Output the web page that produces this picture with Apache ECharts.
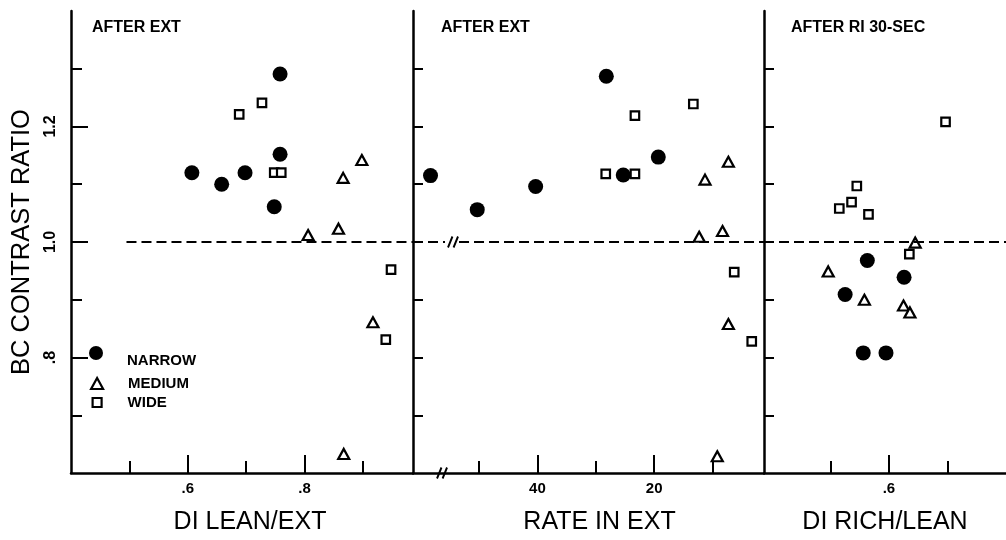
<!DOCTYPE html>
<html>
<head>
<meta charset="utf-8">
<script src="https://cdn.jsdelivr.net/npm/echarts@6/dist/echarts.min.js"></script>
<style>html,body{margin:0;padding:0;background:#fff}#c{width:1006px;height:540px}</style>
</head>
<body>
<div id="c"></div>
<script>
// ---- data ----
const seriesNames = ['NARROW', 'MEDIUM', 'WIDE'];
const panelTitles = ['AFTER EXT', 'AFTER EXT', 'AFTER RI 30-SEC'];
const xTitles = ['DI LEAN/EXT', 'RATE IN EXT', 'DI RICH/LEAN'];
const yTitle = 'BC CONTRAST RATIO';

const yMajorTicks = [0.8, 1.0, 1.2];
const yMinorTicks = [0.7, 0.9, 1.1, 1.3];
const yAllTicks = [0.7, 0.8, 0.9, 1.0, 1.1, 1.2, 1.3];
const p1MajorTicks = [0.6, 0.8];
const p1MinorTicks = [0.5, 0.7, 0.9];
const p2MajorTicks = [20, 40];
const p2MinorTicks = [10, 30, 50];
const p3MajorTicks = [0.6];
const p3MinorTicks = [0.5, 0.7];

// panel 1: DI LEAN/EXT
const p1Narrow = [[0.607, 1.120], [0.658, 1.100], [0.698, 1.120], [0.748, 1.061], [0.758, 1.152], [0.758, 1.291]];
const p1Medium = [[0.806, 1.012], [0.858, 1.023], [0.866, 1.111], [0.898, 1.142], [0.917, 0.861], [0.867, 0.633]];
const p1Wide   = [[0.688, 1.221], [0.727, 1.241], [0.748, 1.120], [0.760, 1.120], [0.948, 0.952], [0.939, 0.831]];
// panel 2: RATE IN EXT
const p2Narrow = [[58.3, 1.115], [50.3, 1.056], [40.3, 1.096], [28.2, 1.287], [25.3, 1.116], [19.3, 1.147]];
const p2Medium = [[7.3, 1.139], [11.3, 1.108], [8.3, 1.019], [12.3, 1.009], [7.3, 0.858], [9.2, 0.629]];
const p2Wide   = [[28.3, 1.118], [23.3, 1.118], [23.3, 1.219], [13.3, 1.239], [6.3, 0.948], [3.3, 0.828]];
// panel 3: DI RICH/LEAN
const p3Narrow = [[0.563, 0.968], [0.626, 0.939], [0.525, 0.909], [0.556, 0.808], [0.595, 0.808]];
const p3Medium = [[0.645, 0.999], [0.496, 0.949], [0.558, 0.900], [0.625, 0.890], [0.636, 0.878]];
const p3Wide   = [[0.697, 1.208], [0.545, 1.097], [0.536, 1.069], [0.515, 1.058], [0.565, 1.048], [0.635, 0.979]];

const refLine = 1.0;

// ---- chart ----
const FONT = '"Liberation Sans", Arial, sans-serif';
const BLACK = '#000';
const Y_RANGE = [0.6, 1.4];
const X_RANGES = [[0.4, 0.9856], [1.2, 61.3], [0.386, 0.8006]];
const GRID_TOP = 11, GRID_H = 465;

const fmt = v => {
  const s = (Math.round(v * 10) / 10);
  if (s >= 10) return String(Math.round(s));
  return s.toFixed(1).replace(/^0/, '');
};

function xMajor(grid, range, ticks, name, inverse, nameShift) {
  const pad = nameShift >= 0 ? [0, 0, 0, 2 * nameShift] : [0, -2 * nameShift, 0, 0];
  return {
    type: 'value', gridIndex: grid, position: 'bottom', min: range[0], max: range[1], inverse: !!inverse,
    axisLine: { show: true, lineStyle: { color: BLACK, width: 2.5 } },
    axisTick: { show: true, inside: true, length: 18, customValues: ticks, lineStyle: { color: BLACK, width: 2 } },
    axisLabel: { show: true, customValues: ticks, formatter: fmt, margin: 8, color: BLACK, fontSize: 15, fontWeight: 'bold', fontFamily: FONT },
    splitLine: { show: false },
    name: name, nameLocation: 'middle', nameGap: 37,
    nameTextStyle: { color: BLACK, fontSize: 25, fontFamily: FONT, padding: pad }
  };
}
function xMinor(grid, range, ticks, inverse) {
  return {
    type: 'value', gridIndex: grid, position: 'bottom', min: range[0], max: range[1], inverse: !!inverse,
    axisLine: { show: false },
    axisTick: { show: true, inside: true, length: 12, customValues: ticks, lineStyle: { color: BLACK, width: 2 } },
    axisLabel: { show: false },
    splitLine: { show: false }
  };
}
function yAxisDef(grid, ticks, len, labels, name) {
  return {
    type: 'value', gridIndex: grid, position: 'left', min: Y_RANGE[0], max: Y_RANGE[1],
    axisLine: { show: true, lineStyle: { color: BLACK, width: 2.5 } },
    axisTick: { show: true, inside: true, length: len, customValues: ticks, lineStyle: { color: BLACK, width: 2 } },
    axisLabel: labels ? { show: true, customValues: labels, formatter: fmt, rotate: 90, margin: 12, color: BLACK, fontSize: 16, fontWeight: 'bold', fontFamily: FONT } : { show: false },
    splitLine: { show: false },
    name: name || '', nameLocation: 'middle', nameGap: 36,
    nameTextStyle: { color: BLACK, fontSize: 25.5, fontFamily: FONT }
  };
}

const symStyles = {
  NARROW: { symbol: 'circle', symbolSize: 15, itemStyle: { color: BLACK, borderWidth: 0, opacity: 1 } },
  MEDIUM: { symbol: 'triangle', symbolSize: [11, 10], itemStyle: { color: '#fff', borderColor: BLACK, borderWidth: 2.2, opacity: 1 } },
  WIDE:   { symbol: 'rect', symbolSize: 8.5, itemStyle: { color: '#fff', borderColor: BLACK, borderWidth: 2.2, opacity: 1 } }
};

function sc(name, data, xi, yi, extra) {
  return Object.assign({
    type: 'scatter', name: name, data: data, xAxisIndex: xi, yAxisIndex: yi,
    symbol: symStyles[name].symbol, symbolSize: symStyles[name].symbolSize,
    itemStyle: symStyles[name].itemStyle, z: name === 'NARROW' ? 3 : 4, silent: true
  }, extra || {});
}

const dashStyle = { color: BLACK, width: 2, type: [10, 5] };
function refSegs(segs) {
  return {
    silent: true, symbol: 'none', label: { show: false },
    lineStyle: dashStyle, animation: false,
    data: segs.map(s => [{ coord: [s[0], refLine] }, { coord: [s[1], refLine] }])
  };
}
// axis-break positions (decoration) in panel 2
const breakDash = 54.45, breakAxis = 56.33;
const breakPath = 'path://M0,11L4,0M5,11L9,0';

const legendText = { color: BLACK, fontSize: 15, fontWeight: 'bold', fontFamily: FONT };

const option = {
  animation: false,
  backgroundColor: '#fff',
  textStyle: { fontFamily: FONT },
  title: panelTitles.map((t, i) => ({
    text: t, left: [92, 441, 791][i], top: 20, padding: 0,
    textStyle: { color: BLACK, fontSize: 16, fontWeight: 'bold', fontFamily: FONT }
  })),
  legend: [
    { data: ['NARROW'], left: 89, top: 346, itemWidth: 14, itemHeight: 14, padding: 0, selectedMode: false, icon: 'circle',
      itemStyle: { color: BLACK, borderWidth: 0 },
      formatter: '{a|{name}}',
      textStyle: Object.assign({}, legendText, { padding: [0, 0, 0, 19],
        rich: { a: Object.assign({}, legendText, { lineHeight: 30, verticalAlign: 'bottom' }) } }) },
    { data: ['MEDIUM'], left: 90, top: 376, itemWidth: 12, itemHeight: 11, padding: 0, selectedMode: false, icon: 'triangle',
      itemStyle: { color: '#fff', borderColor: BLACK, borderWidth: 2.2 },
      textStyle: Object.assign({}, legendText, { padding: [0, 0, 0, 20] }) },
    { data: ['WIDE'], left: 91.5, top: 395, itemWidth: 9, itemHeight: 9, padding: 0, selectedMode: false, icon: 'rect',
      itemStyle: { color: '#fff', borderColor: BLACK, borderWidth: 2.2 },
      textStyle: Object.assign({}, legendText, { padding: [0, 0, 0, 21] }) }
  ],
  grid: [
    { left: 71, top: GRID_TOP, width: 342, height: GRID_H, containLabel: false },
    { left: 413, top: GRID_TOP, width: 351, height: GRID_H, containLabel: false },
    { left: 764, top: GRID_TOP, width: 242, height: GRID_H, containLabel: false }
  ],
  xAxis: [
    xMajor(0, X_RANGES[0], p1MajorTicks, xTitles[0], false, 8),
    xMinor(0, X_RANGES[0], p1MinorTicks, false),
    xMajor(1, X_RANGES[1], p2MajorTicks, xTitles[1], true, 11),
    xMinor(1, X_RANGES[1], p2MinorTicks, true),
    xMajor(2, X_RANGES[2], p3MajorTicks, xTitles[2], false, 0),
    xMinor(2, X_RANGES[2], p3MinorTicks, false)
  ],
  yAxis: [
    yAxisDef(0, yMajorTicks, 17, yMajorTicks, yTitle),
    Object.assign(yAxisDef(0, yMinorTicks, 11, null), { axisLine: { show: false } }),
    yAxisDef(1, yAllTicks, 10, null),
    yAxisDef(2, yAllTicks, 10, null)
  ],
  series: [
    sc('WIDE', p1Wide, 0, 0),
    sc('MEDIUM', p1Medium, 0, 0),
    sc('NARROW', p1Narrow, 0, 0, { markLine: refSegs([[0.495, X_RANGES[0][1]]]) }),
    sc('WIDE', p2Wide, 2, 2),
    sc('MEDIUM', p2Medium, 2, 2),
    sc('NARROW', p2Narrow, 2, 2, {
      markLine: refSegs([[X_RANGES[1][1], 55.82], [53.42, X_RANGES[1][0]]]),
      markPoint: {
        silent: true, symbol: breakPath, symbolSize: [10, 11], symbolKeepAspect: false,
        itemStyle: { color: 'none', borderColor: BLACK, borderWidth: 2 },
        label: { show: false },
        data: [{ coord: [breakDash, refLine] }, { coord: [breakAxis, Y_RANGE[0]] }]
      }
    }),
    sc('WIDE', p3Wide, 4, 3),
    sc('MEDIUM', p3Medium, 4, 3),
    sc('NARROW', p3Narrow, 4, 3, { markLine: refSegs([[X_RANGES[2][0], X_RANGES[2][1]]]) })
  ]
};

const chart = echarts.init(document.getElementById('c'), null, { renderer: 'canvas' });
chart.setOption(option);
</script>
</body>
</html>
